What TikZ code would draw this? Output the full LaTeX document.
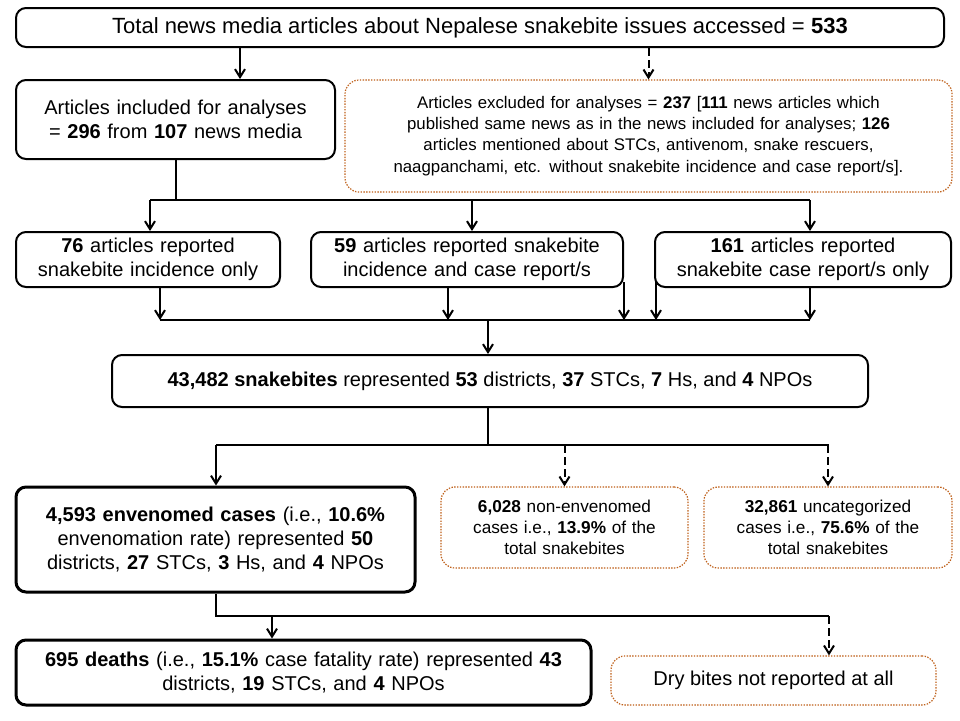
\documentclass[tikz,border=0pt]{standalone}
\usepackage{fontspec}
\setmainfont{Liberation Sans}
\usetikzlibrary{arrows.meta,positioning}
\definecolor{exbrown}{RGB}{190,95,25}
\hyphenpenalty=10000
\tikzset{
  box/.style={draw=black, rounded corners=5pt, line width=1pt, align=center, inner sep=1pt, fill=white},
  thickbox/.style={box, line width=1.5pt},
  exbox/.style={draw=exbrown, dash pattern=on 0.7pt off 0.7pt, rounded corners=7pt, line width=0.6pt, align=center, inner sep=1pt},
  link/.style={line width=1pt},
  arr/.style={line width=1pt, -{Straight Barb[length=4pt,width=5pt]}},
  darr/.style={arr, dash pattern=on 4pt off 2pt},
}
\begin{document}
\begin{tikzpicture}[x=0.5pt, y=-0.5pt, font=\fontsize{10}{12}\selectfont]
  \useasboundingbox (0,0) rectangle (960,720);
  % boxes
  \node[box, minimum width=464pt, minimum height=19.5pt, font=\fontsize{11}{13}\selectfont] (total) at (480,27.5)
    {Total news media articles about Nepalese snakebite issues accessed = \textbf{533}};
  \node[box, minimum width=159.5pt, minimum height=39.5pt, text width=156pt] (incl) at (175.5,119.5)
    {Articles included for analyses\\= \textbf{296} from \textbf{107} news media};
  \node[exbox, minimum width=303.5pt, minimum height=56pt, text width=298pt, font=\fontsize{8.4}{10.6}\selectfont] (excl) at (648.5,136)
    {Articles excluded for analyses = \textbf{237} [\textbf{111} news articles which\\published same news as in the news included for analyses; \textbf{126}\\articles mentioned about STCs, antivenom, snake rescuers,\\naagpanchami, etc. without snakebite incidence and case report/s].};
  \node[box, minimum width=132pt, minimum height=27.5pt, text width=130pt] (inci) at (148,259.5)
    {\textbf{76} articles reported\\snakebite incidence only};
  \node[box, minimum width=156pt, minimum height=27.5pt, text width=154pt] (both) at (467,259.5)
    {\textbf{59} articles reported snakebite\\incidence and case report/s};
  \node[box, minimum width=148pt, minimum height=27.5pt, text width=146pt] (case) at (803,259.5)
    {\textbf{161} articles reported\\snakebite case report/s only};
  \node[box, minimum width=378pt, minimum height=26pt] (bites) at (490,381)
    {\textbf{43,482 snakebites} represented \textbf{53} districts, \textbf{37} STCs, \textbf{7} Hs, and \textbf{4} NPOs};
  \node[thickbox, minimum width=199.5pt, minimum height=52.5pt, text width=197pt] (env) at (215.5,539.5)
    {\textbf{4,593 envenomed cases} (i.e., \textbf{10.6\%}\\envenomation rate) represented \textbf{50}\\districts, \textbf{27} STCs, \textbf{3} Hs, and \textbf{4} NPOs};
  \node[exbox, minimum width=123.5pt, minimum height=40.5pt, text width=121pt, font=\fontsize{8.6}{10.6}\selectfont] (nonenv) at (564.5,527.5)
    {\textbf{6,028} non-envenomed\\cases i.e., \textbf{13.9\%} of the\\total snakebites};
  \node[exbox, minimum width=124pt, minimum height=40.5pt, text width=121pt, font=\fontsize{8.6}{10.6}\selectfont] (uncat) at (828,527.5)
    {\textbf{32,861} uncategorized\\cases i.e., \textbf{75.6\%} of the\\total snakebites};
  \node[thickbox, minimum width=287.5pt, minimum height=32.5pt, text width=285pt] (death) at (303.5,672.5)
    {\textbf{695 deaths} (i.e., \textbf{15.1\%} case fatality rate) represented \textbf{43}\\districts, \textbf{19} STCs, and \textbf{4} NPOs};
  \node[exbox, minimum width=162.5pt, minimum height=24.5pt] (dry) at (773.5,680.5)
    {Dry bites not reported at all};
  % junction points
  \coordinate (s1) at (176,200);
  \coordinate (s2) at (488,320);
  \coordinate (s3) at (488,445);
  \coordinate (s4) at (216,616);
  % first split
  \draw[arr] (total.south -| 240,0) -- (incl.north -| 240,0);
  \draw[darr] (total.south -| excl) -- (excl.north);
  \draw[link] (incl.south -| s1) -- (s1);
  \draw[link] (150,200) -- (810,200);
  \draw[arr] (150,200) -- (inci.north -| 150,0);
  \draw[arr] (472,200) -- (both.north -| 472,0);
  \draw[arr] (810,200) -- (case.north -| 810,0);
  % merge
  \draw[arr] (inci.south -| 160,0) -- (160,320);
  \draw[arr] (both.south -| 448,0) -- (448,320);
  \draw[arr] (624,282) -- (624,320);
  \draw[arr] (656,282) -- (656,320);
  \draw[arr] (case.south -| 810,0) -- (810,320);
  \draw[link] (160,320) -- (810,320);
  \draw[arr] (s2) -- (bites.north -| s2);
  % second split
  \draw[link] (bites.south -| s3) -- (s3);
  \draw[link] (216,445) -- (829,445);
  \draw[arr] (216,445) -- (env.north -| 216,0);
  \draw[darr] (nonenv.north |- s3) -- (nonenv.north);
  \draw[darr] (uncat.north |- s3) -- (uncat.north);
  % third split
  \draw[link] (env.south -| s4) -- (s4) -- (829,616);
  \draw[arr] (272,616) -- (death.north -| 272,0);
  \draw[darr] (829,616) -- (dry.north -| 829,0);
\end{tikzpicture}
\end{document}
